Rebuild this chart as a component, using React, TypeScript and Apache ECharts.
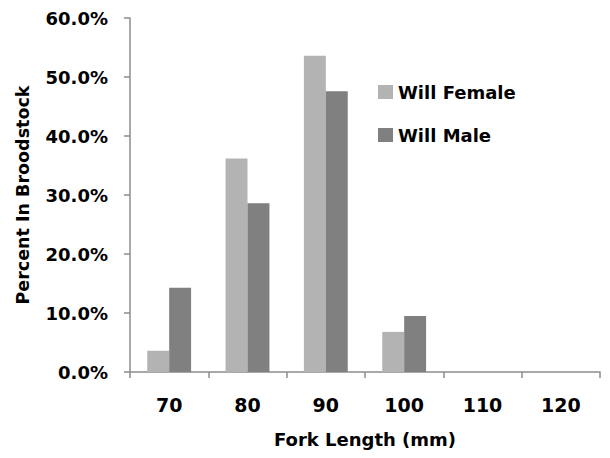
import React, { useEffect, useRef } from "react";
import * as echarts from "echarts";

const categories = ["70", "80", "90", "100", "110", "120"];
const femaleValues = [3.6, 36.2, 53.6, 6.8, 0, 0];
const maleValues = [14.3, 28.6, 47.6, 9.5, 0, 0];
const seriesNames = ["Will Female", "Will Male"];

const FONT = "DejaVu Sans";

export default function App() {
  const ref = useRef<HTMLDivElement>(null);
  useEffect(() => {
    if (!ref.current) return;
    const chart = echarts.init(ref.current, undefined, { renderer: "svg" });
    chart.setOption({
      animation: false,
      backgroundColor: "#ffffff",
      grid: { left: 130, right: 10, top: 18, bottom: 86 },
      legend: {
        orient: "vertical",
        left: 373,
        top: 78,
        itemWidth: 15,
        itemHeight: 14,
        itemGap: 25,
        icon: "rect",
        data: seriesNames,
        textStyle: { fontFamily: FONT, fontWeight: "bold", fontSize: 18, color: "#000" },
      },
      xAxis: {
        type: "category",
        data: categories,
        boundaryGap: true,
        name: "Fork Length (mm)",
        nameLocation: "middle",
        nameGap: 58,
        nameTextStyle: { fontFamily: FONT, fontWeight: "bold", fontSize: 18, color: "#000" },
        axisLine: { lineStyle: { color: "#8c8c8c", width: 1.5 } },
        axisTick: { show: true, length: 6, alignWithLabel: false, lineStyle: { color: "#8c8c8c", width: 1.5 } },
        axisLabel: { fontFamily: FONT, fontWeight: "bold", fontSize: 19, color: "#000", margin: 23 },
        splitLine: { show: false },
      },
      yAxis: {
        type: "value",
        min: 0,
        max: 60,
        interval: 10,
        name: "Percent In Broodstock",
        nameLocation: "middle",
        nameGap: 98,
        nameTextStyle: { fontFamily: FONT, fontWeight: "bold", fontSize: 17.5, color: "#000" },
        axisLine: { show: true, lineStyle: { color: "#8c8c8c", width: 1.5 } },
        axisTick: { show: true, length: 6, lineStyle: { color: "#8c8c8c", width: 1.5 } },
        axisLabel: {
          fontFamily: FONT,
          fontWeight: "bold",
          fontSize: 18,
          color: "#000",
          margin: 22,
          formatter: (v: number) => v.toFixed(1) + "%",
        },
        splitLine: { show: false },
      },
      series: [
        {
          name: seriesNames[0],
          type: "bar",
          data: femaleValues,
          itemStyle: { color: "#b3b3b3" },
          barGap: "0%",
          barCategoryGap: "44%",
        },
        {
          name: seriesNames[1],
          type: "bar",
          data: maleValues,
          itemStyle: { color: "#808080" },
          barGap: "0%",
          barCategoryGap: "44%",
        },
      ],
    });
    return () => chart.dispose();
  }, []);
  return <div ref={ref} style={{ width: 610, height: 458, position: "absolute", left: 0, top: 0 }} />;
}
